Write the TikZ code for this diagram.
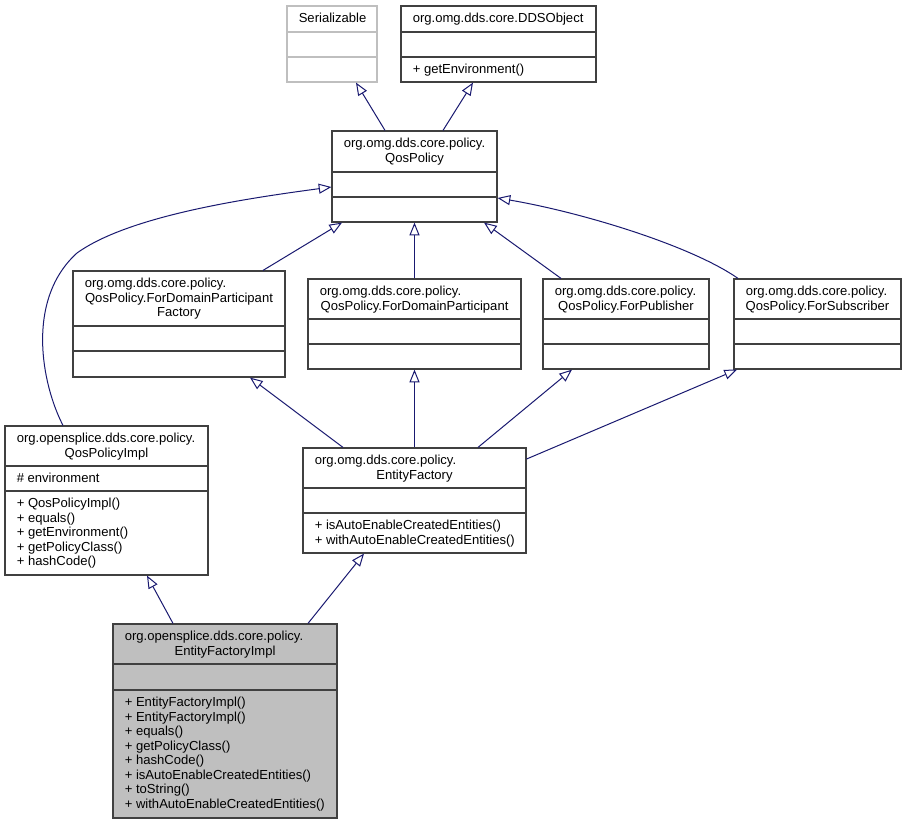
\documentclass[tikz,border=0pt]{standalone}
\usepackage{fontspec}
\setmainfont{Liberation Sans}
\usetikzlibrary{arrows.meta,fit}
\definecolor{edgeblue}{HTML}{191970}
\definecolor{implgray}{HTML}{BFBFBF}
\definecolor{borderdark}{HTML}{404040}
\definecolor{borderlight}{HTML}{BFBFBF}
\newcommand\Tf{\fontsize{9.8pt}{11pt}\selectfont}
\newcommand\Lt[4]{\node[txt,anchor=base west] (#1) at (#2,#3) {#4};}
\newcommand\Ct[4]{\node[txt,anchor=base] (#1) at (#2,#3) {#4};}
% name, x1, y1, x2, y2, divider1, divider2, border colour, fill colour
\newcommand\Umlbox[9]{%
  \node[classbox, draw=#8, fill=#9, fit={(#2,#3) (#4,#5)}] (#1) {};
  \draw[divider, draw=#8] (#1.west |- 0,#6) -- (#1.east |- 0,#6)
                          (#1.west |- 0,#7) -- (#1.east |- 0,#7);}
\tikzset{
  classbox/.style={rectangle, inner sep=0pt, line width=0.9pt},
  divider/.style={line width=0.9pt},
  txt/.style={inner sep=0pt, font=\Tf, text=black},
  inh/.style={draw=edgeblue, line width=0.75pt,
    -{Triangle[open, length=9.5pt, width=7.5pt, line width=0.75pt]}},
}
\begin{document}
\begin{tikzpicture}[x=0.75pt,y=-0.75pt]
\fill[white] (0,0) rectangle (906,824);
\useasboundingbox (0,0) rectangle (906,824);

% ---- class boxes ----
\Umlbox{ser}{287}{6}{377}{82}{32}{57}{borderlight}{white}
\Umlbox{dds}{401}{6}{596}{82}{32}{57}{borderdark}{white}
\Umlbox{qp}{332}{131}{497}{222}{172}{197}{borderdark}{white}
\Umlbox{fdpf}{73}{271}{285}{377}{326}{351}{borderdark}{white}
\Umlbox{fdp}{308}{279}{521}{369}{319}{344}{borderdark}{white}
\Umlbox{fpub}{543}{279}{709}{369}{319}{344}{borderdark}{white}
\Umlbox{fsub}{734}{279}{901}{369}{319}{344}{borderdark}{white}
\Umlbox{qpi}{5}{426}{208}{575}{466}{491}{borderdark}{white}
\Umlbox{ef}{303}{448}{526}{553}{488}{513}{borderdark}{white}
\Umlbox{efi}{113}{624}{337}{818}{664}{690}{borderdark}{implgray}

% ---- texts ----
\Lt{ser1}{298.5}{22.5}{Serializable}

\Lt{dds1}{412.5}{22.5}{org.omg.dds.core.DDSObject}
\Lt{dds2}{412.5}{73.5}{+ getEnvironment()}

\Lt{qp1}{343.5}{147.5}{org.omg.dds.core.policy.}
\Ct{qp2}{414.5}{162}{QosPolicy}

\Lt{fdpf1}{84.5}{287.5}{org.omg.dds.core.policy.}
\Ct{fdpf2}{179}{302}{QosPolicy.ForDomainParticipant}
\Ct{fdpf3}{179}{316.5}{Factory}

\Lt{fdp1}{319.5}{295.5}{org.omg.dds.core.policy.}
\Ct{fdp2}{414.5}{310}{QosPolicy.ForDomainParticipant}

\Lt{fpub1}{554.5}{295.5}{org.omg.dds.core.policy.}
\Ct{fpub2}{626}{310}{QosPolicy.ForPublisher}

\Lt{fsub1}{745.5}{295.5}{org.omg.dds.core.policy.}
\Ct{fsub2}{817.5}{310}{QosPolicy.ForSubscriber}

\Lt{qpi1}{16.5}{442.5}{org.opensplice.dds.core.policy.}
\Ct{qpi2}{106.5}{457}{QosPolicyImpl}
\Lt{qpi3}{16.5}{482}{\# environment}
\Lt{qpi4}{16.5}{507.5}{+ QosPolicyImpl()}
\Lt{qpi5}{16.5}{522}{+ equals()}
\Lt{qpi6}{16.5}{536.5}{+ getEnvironment()}
\Lt{qpi7}{16.5}{551}{+ getPolicyClass()}
\Lt{qpi8}{16.5}{565.5}{+ hashCode()}

\Lt{ef1}{314.5}{464.5}{org.omg.dds.core.policy.}
\Ct{ef2}{414.5}{479}{EntityFactory}
\Lt{ef3}{314.5}{529.5}{+ isAutoEnableCreatedEntities()}
\Lt{ef4}{314.5}{544}{+ withAutoEnableCreatedEntities()}

\Lt{efi1}{124.5}{640.5}{org.opensplice.dds.core.policy.}
\Ct{efi2}{225}{655}{EntityFactoryImpl}
\Lt{efi3}{124.5}{706.5}{+ EntityFactoryImpl()}
\Lt{efi4}{124.5}{721}{+ EntityFactoryImpl()}
\Lt{efi5}{124.5}{735.5}{+ equals()}
\Lt{efi6}{124.5}{750}{+ getPolicyClass()}
\Lt{efi7}{124.5}{764.5}{+ hashCode()}
\Lt{efi8}{124.5}{779}{+ isAutoEnableCreatedEntities()}
\Lt{efi9}{124.5}{793.5}{+ toString()}
\Lt{efi10}{124.5}{808}{+ withAutoEnableCreatedEntities()}

% ---- inheritance connectors ----
\draw[inh] (qp.north -| 385,0) -- (ser.south -| 356,0);
\draw[inh] (qp.north -| 443,0) -- (dds.south -| 473,0);
\draw[inh] (fdpf.north -| 263,0) -- (qp.south -| 342,0);
\draw[inh] (fdp.north) -- (qp.south);
\draw[inh] (fpub.north -| 561,0) -- (qp.south -| 484,0);
\draw[inh] (fsub.north -| 738,0) .. controls (690,245) and (580,212) .. (qp.east |- 0,198);
\draw[inh] (qpi.north -| 63,0) .. controls (42,385) and (25,300) .. (77,253)
                              .. controls (130,215) and (250,198) .. (qp.west |- 0,187);
\draw[inh] (ef.north -| 343,0) -- (fdpf.south -| 250,0);
\draw[inh] (ef.north) -- (fdp.south);
\draw[inh] (ef.north -| 478,0) -- (fpub.south -| 572,0);
\draw[inh] (ef.east |- 0,459) -- (fsub.south -| 737,0);
\draw[inh] (efi.north -| 173,0) -- (qpi.south -| 147,0);
\draw[inh] (efi.north -| 308,0) -- (ef.south -| 364,0);
\end{tikzpicture}
\end{document}
